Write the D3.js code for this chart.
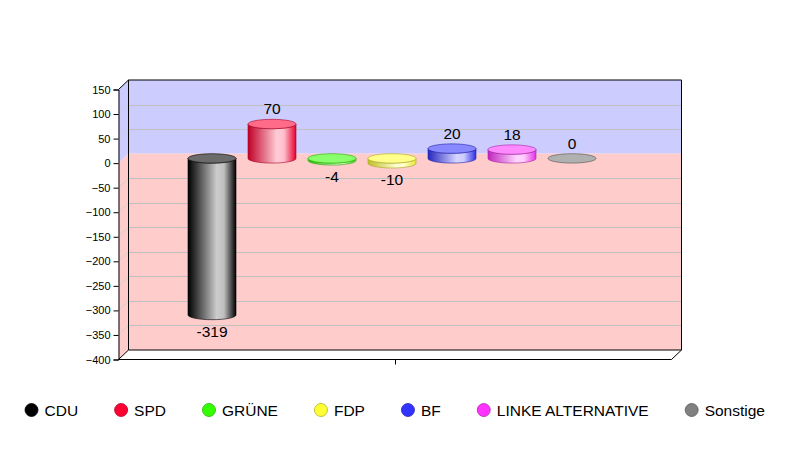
<!DOCTYPE html>
<html>
<head>
<meta charset="utf-8">
<script src="https://cdn.jsdelivr.net/npm/d3@7"></script>
<style>
  body { margin: 0; background: #fff; }
  text { font-family: "Liberation Sans", Arial, sans-serif; fill: #000; }
</style>
</head>
<body>
<div id="chart"></div>
<script>
// Seat changes per party
var parties = ["CDU", "SPD", "GRÜNE", "FDP", "BF", "LINKE ALTERNATIVE", "Sonstige"];
var values = [-319, 70, -4, -10, 20, 18, 0];
var colors = ["#000000", "#ff0033", "#33ff00", "#ffff33", "#3333ff", "#ff33ff", "#808080"];
var yTicks = [150, 100, 50, 0, -50, -100, -150, -200, -250, -300, -350, -400];

var width = 791, height = 450;

// front plane of the 3d box
var front = { left: 118.5, right: 671.5, top: 89.5, bottom: 359.5 };
var depth = { x: 10, y: -9.5 };

var svg = d3.select("#chart")
  .append("svg")
  .attr("width", width)
  .attr("height", height);

var defs = svg.append("defs");

var y = d3.scaleLinear()
  .domain([-400, 150])
  .range([front.bottom, front.top]);

// bar centers sit halfway into the box
var x = d3.scalePoint()
  .domain(parties)
  .range([212, 572]);

var y0 = y(0);

/* ---------------------------- walls ---------------------------- */

var bx = front.left + depth.x;          // back wall left
var bRight = front.right + depth.x;     // back wall right
var bTop = front.top + depth.y;
var bBottom = front.bottom + depth.y;
var bZero = y0 + depth.y;

// back wall: blue above zero, pink below
svg.append("rect")
  .attr("x", bx).attr("y", bTop)
  .attr("width", bRight - bx).attr("height", bZero - bTop)
  .attr("fill", "#ccccff");
svg.append("rect")
  .attr("x", bx).attr("y", bZero)
  .attr("width", bRight - bx).attr("height", bBottom - bZero)
  .attr("fill", "#ffcccc");

// left side wall
svg.append("path")
  .attr("d", "M" + front.left + "," + front.top + "L" + bx + "," + bTop +
    "L" + bx + "," + bZero + "L" + front.left + "," + y0 + "Z")
  .attr("fill", "#ccccff");
svg.append("path")
  .attr("d", "M" + front.left + "," + y0 + "L" + bx + "," + bZero +
    "L" + bx + "," + bBottom + "L" + front.left + "," + front.bottom + "Z")
  .attr("fill", "#ffcccc");

// gridlines
var grid = yTicks.filter(function (d) { return d != 150 && d != -400 && d != 0; });
svg.append("g").selectAll("line.grid")
  .data(grid)
  .enter().append("line")
  .attr("x1", bx).attr("x2", bRight)
  .attr("y1", function (d) { return Math.round(y(d) + depth.y) + 0.5; })
  .attr("y2", function (d) { return Math.round(y(d) + depth.y) + 0.5; })
  .attr("stroke", "#c0c0c0");
svg.append("g").selectAll("line.side")
  .data(grid)
  .enter().append("line")
  .attr("x1", front.left).attr("x2", bx)
  .attr("y1", function (d) { return y(d); })
  .attr("y2", function (d) { return y(d) + depth.y; })
  .attr("stroke", "#d0d0d0");

// box outline
var outline = svg.append("g")
  .attr("fill", "none")
  .attr("stroke", "#000")
  .attr("stroke-width", 1);
outline.append("path")
  .attr("d", "M" + bx + "," + bBottom + "V" + bTop + "H" + bRight + "V" + bBottom + "H" + bx);
outline.append("path")
  .attr("d", "M" + front.left + "," + front.top + "L" + bx + "," + bTop);
outline.append("path")
  .attr("d", "M" + front.left + "," + front.bottom + "L" + bx + "," + bBottom);
outline.append("path")
  .attr("d", "M" + front.left + "," + front.bottom + "H" + front.right + "L" + bRight + "," + bBottom);

// y axis
var yAxis = svg.append("g")
  .attr("transform", "translate(" + front.left + ",0)")
  .call(d3.axisLeft(y).tickValues(yTicks).tickSize(5).tickPadding(3));
yAxis.select(".domain").attr("stroke", "#000");
yAxis.selectAll(".tick line").attr("stroke", "#000");
yAxis.selectAll("text")
  .style("font-family", "'Liberation Sans', Arial, sans-serif")
  .style("font-size", "11px")
  .attr("fill", "#000");

// single category tick under the floor
svg.append("line")
  .attr("x1", 395.5).attr("x2", 395.5)
  .attr("y1", front.bottom).attr("y2", front.bottom + 5)
  .attr("stroke", "#000");

/* ---------------------------- bars ---------------------------- */

var rx = 24, ry = 4.7;
var midY = depth.y / 2;

function mix(c, target, t) {
  return d3.interpolateRgb(c, target)(t);
}

colors.forEach(function (c, i) {
  var g = defs.append("linearGradient")
    .attr("id", "grad" + i)
    .attr("x1", "0").attr("x2", "1").attr("y1", "0").attr("y2", "0");
  g.append("stop").attr("offset", "0").attr("stop-color", mix(c, "#000", 0.25));
  g.append("stop").attr("offset", "0.6").attr("stop-color", mix(c, "#fff", 0.8));
  g.append("stop").attr("offset", "0.75").attr("stop-color", mix(c, "#fff", 0.75));
  g.append("stop").attr("offset", "1").attr("stop-color", mix(c, "#000", 0.1));
});

var bars = svg.append("g").selectAll("g.bar")
  .data(values)
  .enter().append("g")
  .attr("class", "bar");

bars.each(function (v, i) {
  var g = d3.select(this);
  var cx = x(parties[i]);
  var yv = y(v) + midY, yz = y0 + midY;
  var top = Math.min(yv, yz), bot = Math.max(yv, yz);
  var stroke = mix(colors[i], "#000", 0.35);

  // cylinder body, skipped when the value is zero
  if (bot - top > 0.5) {
    g.append("path")
      .attr("d", "M" + (cx - rx) + "," + top + "V" + bot +
        "A" + rx + "," + ry + " 0 0 0 " + (cx + rx) + "," + bot +
        "V" + top +
        "A" + rx + "," + ry + " 0 0 1 " + (cx - rx) + "," + top + "Z")
      .attr("fill", "url(#grad" + i + ")")
      .attr("stroke", stroke)
      .attr("stroke-width", 0.6);
  }
  g.append("ellipse")
    .attr("cx", cx).attr("cy", top)
    .attr("rx", rx).attr("ry", ry)
    .attr("fill", v == 0 ? "#b0b0b0" : mix(colors[i], "#fff", 0.42))
    .attr("stroke", stroke)
    .attr("stroke-width", 0.6);

  g.append("text")
    .attr("x", cx)
    .attr("y", v >= 0 ? top - ry - 5 : bot + ry + 17)
    .attr("text-anchor", "middle")
    .style("font-size", "15.5px")
    .text(v);
});

/* ---------------------------- legend ---------------------------- */

var legend = svg.append("g");
var items = legend.selectAll("g.item")
  .data(parties)
  .enter().append("g")
  .attr("class", "item");

items.append("circle")
  .attr("r", 6.5)
  .attr("cy", 410)
  .attr("fill", function (d, i) { return colors[i]; })
  .attr("stroke", function (d, i) { return mix(colors[i], "#000", 0.3); })
  .attr("stroke-width", 0.8);

items.append("text")
  .attr("y", 415.5)
  .style("font-size", "15.5px")
  .text(function (d) { return d; });

// circle centers: 13px to the text, 43px from text end to the next circle
var centers = [], c = 0, lastEnd = 0;
items.each(function () {
  var w = d3.select(this).select("text").node().getComputedTextLength();
  centers.push(c);
  lastEnd = c + 13 + w;
  c = lastEnd + 43;
});
var total = lastEnd + 6.5;
var startX = 395 - total / 2 + 6.5;
items.each(function (d, i) {
  var g = d3.select(this);
  var cx = startX + centers[i];
  g.select("circle").attr("cx", cx);
  g.select("text").attr("x", cx + 13);
});
</script>
</body>
</html>
